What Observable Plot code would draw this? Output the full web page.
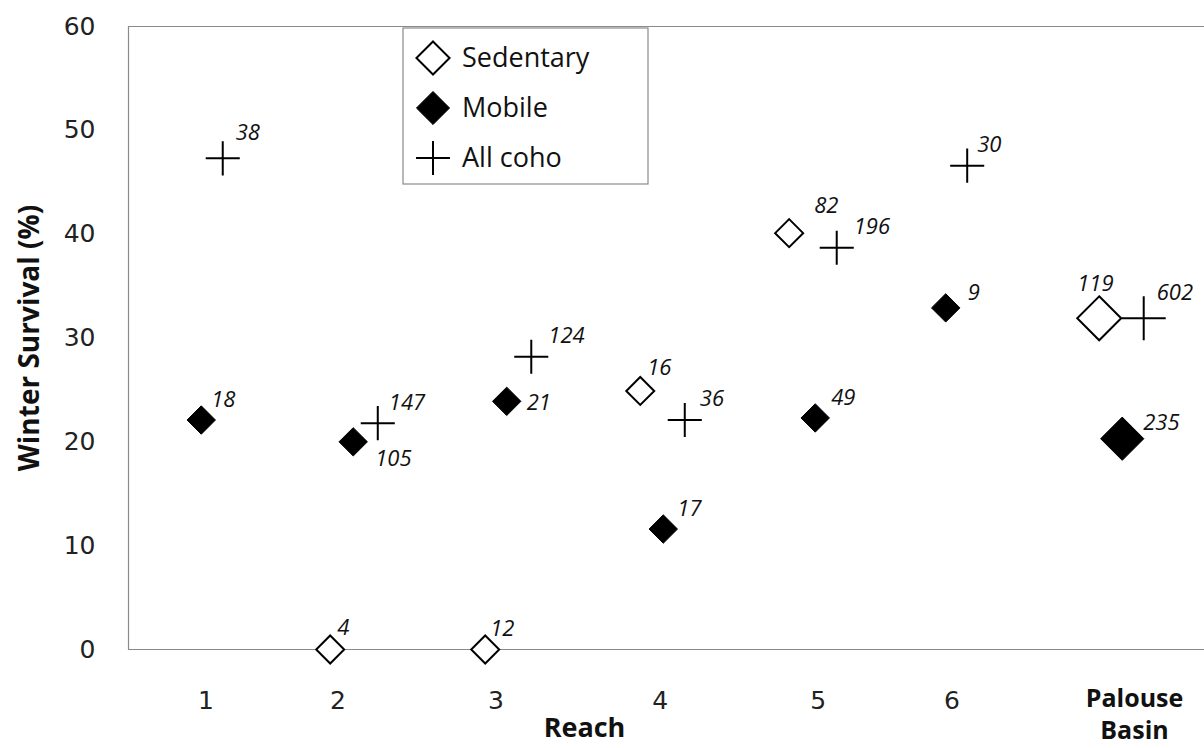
<!DOCTYPE html>
<html><head><meta charset="utf-8">
<script src="https://cdn.jsdelivr.net/npm/d3@7"></script>
<script src="https://cdn.jsdelivr.net/npm/@observablehq/plot@0.6"></script>
<style>
body{margin:0;background:#fff}
#chart{position:relative;width:1204px;height:748px}
</style>
</head><body><div id="chart"></div>
<script>
// ---- data ----
const reachLabels = ["1","2","3","4","5","6"];
const reachLabelPos = [1.03, 1.89, 2.92, 3.99, 5.02, 5.89];
const basinLabel = "Palouse\nBasin";
const basinLabelPos = 7.08;

const sedentaryReach = ["2","3","4","5","Palouse Basin"];
const sedentaryX     = [1.84, 2.85, 3.86, 4.83, 6.85];
const sedentaryValue = [0, 0, 24.9, 40.1, 31.9];
const sedentaryN     = [4, 12, 16, 82, 119];

const mobileReach = ["1","2","3","4","5","6","Palouse Basin"];
const mobileX     = [1.00, 1.99, 2.99, 4.01, 5.00, 5.85, 7.00];
const mobileValue = [22.1, 20.0, 23.9, 11.6, 22.3, 32.9, 20.3];
const mobileN     = [18, 105, 21, 17, 49, 9, 235];

const allReach = ["1","2","3","4","5","6","Palouse Basin"];
const allX     = [1.14, 2.15, 3.15, 4.15, 5.14, 5.99, 7.14];
const allValue = [47.3, 21.8, 28.2, 22.1, 38.7, 46.6, 31.9];
const allN     = [38, 147, 124, 36, 196, 30, 602];

// label placement (pixels from the point), by series
const sedentaryLabelOffset = [[7,-22],[5,-21],[7,-23],[25,-27],[-22,-34]];
const mobileLabelOffset    = [[10,-20],[22,17],[20,2],[14,-20],[16,-20],[22,-15],[21,-16]];
const allLabelOffset       = [[13,-25],[11,-20],[17,-21],[15,-21],[17,-21],[10,-21],[13,-25]];

// ---- build rows ----
function build(series, reach, xs, vals, ns, offs){
  return reach.map((r,i)=>({series, reach:r, x:xs[i], value:vals[i], n:ns[i], off:offs[i]}));
}
const sed = build("Sedentary", sedentaryReach, sedentaryX, sedentaryValue, sedentaryN, sedentaryLabelOffset);
const mob = build("Mobile", mobileReach, mobileX, mobileValue, mobileN, mobileLabelOffset);
const all = build("All coho", allReach, allX, allValue, allN, allLabelOffset);
const isBasin = d => d.reach === "Palouse Basin";

const xDomain = [0.526, 7.536];
const frameColor = "#8a8a8a";
const labelFont = "Open Sans";

const labelMarks = [...sed, ...mob, ...all].map(d =>
  Plot.text([d], {x:"x", y:"value", text: d => String(d.n), dx: d.off[0], dy: d.off[1],
    textAnchor:"start", lineAnchor:"middle", fontStyle:"italic", fontSize:22,
    fontFamily: labelFont, fill:"#111"})
);

const plot = Plot.plot({
  width: 1204, height: 748,
  marginTop: 26, marginBottom: 99, marginLeft: 128, marginRight: 0,
  x: {domain: xDomain, axis: null},
  y: {domain: [0, 60], axis: null},
  style: {background:"#fff", overflow:"visible"},
  marks: [
    Plot.ruleY([0, 60], {stroke: frameColor, strokeWidth: 1.2}),
    Plot.ruleX([xDomain[0]], {stroke: frameColor, strokeWidth: 1.2}),
    Plot.axisY({ticks: d3.range(0, 61, 10), tickSize: 0, tickPadding: 33, label: null,
      fontSize: 25, fontFamily: "DejaVu Sans", fill: "#222"}),
    Plot.text(reachLabels, {x: reachLabelPos, text: d => d, frameAnchor: "bottom", dy: 51,
      lineAnchor: "middle", fontSize: 25, fontFamily: "DejaVu Sans", fill: "#222"}),
    Plot.text([basinLabel], {x: [basinLabelPos], text: d => d, frameAnchor: "bottom", dy: 63,
      lineAnchor: "middle", lineHeight: 1.3, fontSize: 25, fontWeight: "bold", fontFamily: labelFont, fill: "#111"}),
    Plot.text(["Reach"], {frameAnchor: "bottom", dx: -82, dy: 79, lineAnchor: "middle",
      fontSize: 27, fontWeight: "bold", fontFamily: labelFont, fill: "#111"}),
    Plot.text(["Winter Survival (%)"], {frameAnchor: "left", dx: -98, rotate: -90, textAnchor: "middle",
      fontSize: 28, fontWeight: "bold", fontFamily: labelFont, fill: "#111"}),
    // sedentary
    Plot.dot(sed.filter(d=>!isBasin(d)), {x:"x", y:"value", symbol:"diamond2", r:12.6, fill:"white", stroke:"black", strokeWidth:2}),
    Plot.dot(sed.filter(isBasin), {x:"x", y:"value", symbol:"diamond2", r:19.8, fill:"white", stroke:"black", strokeWidth:2}),
    // mobile
    Plot.dot(mob.filter(d=>!isBasin(d)), {x:"x", y:"value", symbol:"diamond2", r:12.8, fill:"black", stroke:"black", strokeWidth:1}),
    Plot.dot(mob.filter(isBasin), {x:"x", y:"value", symbol:"diamond2", r:19.5, fill:"black", stroke:"black", strokeWidth:1}),
    // all coho
    Plot.dot(all.filter(d=>!isBasin(d)), {x:"x", y:"value", symbol:"plus", r:11, fill:"none", stroke:"black", strokeWidth:2}),
    Plot.dot(all.filter(isBasin), {x:"x", y:"value", symbol:"plus", r:14.2, fill:"none", stroke:"black", strokeWidth:2}),
    ...labelMarks
  ]
});

// legend inside the plot area
const svg = d3.select(plot);
const lg = svg.append("g").attr("transform", "translate(403,28)");
lg.append("rect").attr("width", 245).attr("height", 156).attr("fill", "white")
  .attr("stroke", frameColor).attr("stroke-width", 1.2);
const legendItems = [
  {label: "Sedentary", sym: d3.symbolDiamond2, fill: "white", sw: 2},
  {label: "Mobile", sym: d3.symbolDiamond2, fill: "black", sw: 1},
  {label: "All coho", sym: d3.symbolPlus, fill: "none", sw: 2}
];
legendItems.forEach((it, i) => {
  const cy = 30 + i * 50;
  const size = it.sym === d3.symbolPlus ? 377 : 700;
  lg.append("path").attr("d", d3.symbol(it.sym, size)())
    .attr("transform", `translate(30,${cy})`)
    .attr("fill", it.fill).attr("stroke", "black").attr("stroke-width", it.sw);
  lg.append("text").attr("x", 59).attr("y", cy).attr("dy", "0.35em")
    .attr("text-anchor", "start")
    .attr("font-family", labelFont).attr("font-size", 27).attr("fill", "#111").text(it.label);
});

document.getElementById("chart").appendChild(plot);
</script>
</body></html>
